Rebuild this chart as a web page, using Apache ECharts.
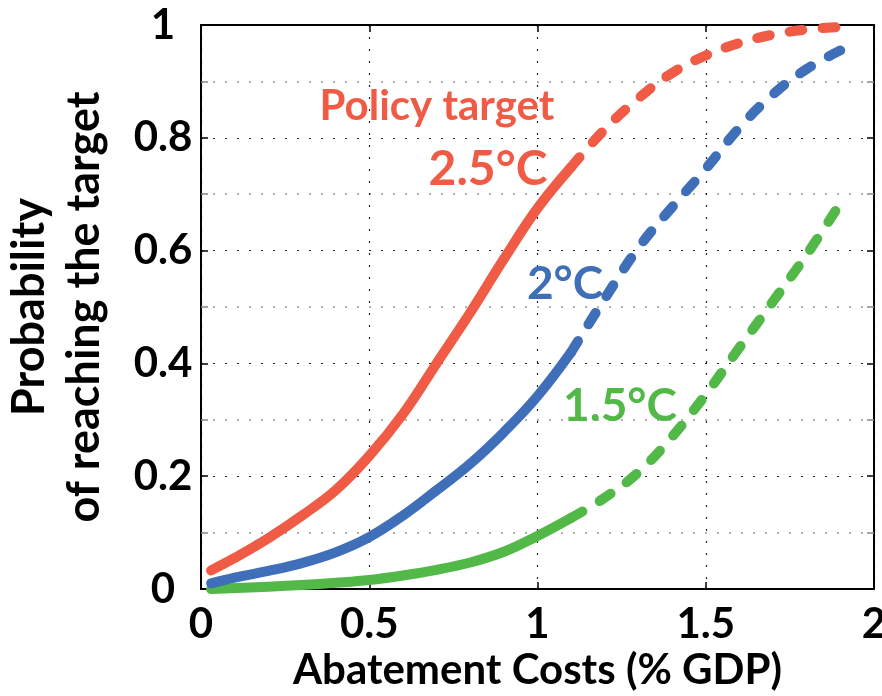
<!DOCTYPE html>
<html>
<head>
<meta charset="utf-8">
<script src="https://cdn.jsdelivr.net/npm/echarts@6/dist/echarts.min.js"></script>
<style>
html,body{margin:0;padding:0;background:#fff;}
#main{width:882px;height:696px;}
</style>
</head>
<body>
<div id="main"></div>
<script>
// ---- data ----
const redSolidX   = [0.03, 0.1, 0.2, 0.3, 0.4, 0.5, 0.6, 0.7, 0.8, 0.9, 1.0, 1.1];
const redSolidY   = [0.033, 0.055, 0.09, 0.13, 0.175, 0.236, 0.31, 0.40, 0.49, 0.585, 0.675, 0.748];
const redDashX    = [1.1, 1.2, 1.3, 1.4, 1.5, 1.6, 1.7, 1.8, 1.91];
const redDashY    = [0.748, 0.815, 0.87, 0.915, 0.946, 0.968, 0.983, 0.992, 0.997];

const blueSolidX  = [0.03, 0.1, 0.2, 0.3, 0.4, 0.5, 0.6, 0.7, 0.8, 0.9, 1.0, 1.1];
const blueSolidY  = [0.01, 0.02, 0.032, 0.046, 0.065, 0.092, 0.13, 0.175, 0.222, 0.278, 0.342, 0.42];
const blueDashX   = [1.1, 1.2, 1.3, 1.4, 1.5, 1.6, 1.7, 1.8, 1.91];
const blueDashY   = [0.42, 0.515, 0.605, 0.677, 0.745, 0.818, 0.877, 0.922, 0.958];

const greenSolidX = [0.03, 0.2, 0.3, 0.4, 0.5, 0.6, 0.7, 0.8, 0.9, 1.0, 1.1];
const greenSolidY = [0.0, 0.004, 0.007, 0.011, 0.016, 0.024, 0.034, 0.047, 0.066, 0.094, 0.126];
const greenDashX  = [1.1, 1.2, 1.3, 1.4, 1.5, 1.6, 1.7, 1.8, 1.91];
const greenDashY  = [0.126, 0.162, 0.207, 0.27, 0.345, 0.428, 0.51, 0.593, 0.693];

const xTicks = [0, 0.5, 1, 1.5, 2];
const yTicks = [0, 0.2, 0.4, 0.6, 0.8, 1];

const labels = [
  {text: 'Policy target', color: '#F05B45'},
  {text: '2.5°C', color: '#F05B45'},
  {text: '2°C', color: '#3E6FB8'},
  {text: '1.5°C', color: '#52B848'}
];

const RED = '#F05B45', BLUE = '#3E6FB8', GREEN = '#52B848';
const FONT = 'Lato';

function pairs(xs, ys) { return xs.map((x, i) => [x, ys[i]]); }
function fmt(v) { return String(+v.toFixed(2)); }

const chart = echarts.init(document.getElementById('main'), null, {renderer: 'canvas'});

function lineSeries(xs, ys, color, dashed) {
  return {
    type: 'line',
    data: pairs(xs, ys),
    showSymbol: false,
    symbol: 'none',
    smooth: 0.4,
    animation: false,
    z: 5,
    lineStyle: {
      color: color,
      width: 10,
      cap: 'round',
      join: 'round',
      type: dashed ? [13, 20] : 'solid'
    }
  };
}

const darkDot = {color: '#222', width: 1.2, type: [2, 10]};
const lightDot = {color: '#b0b0b0', width: 2, type: [2, 10]};

const option = {
  backgroundColor: '#fff',
  animation: false,
  grid: {left: 201, right: 8, top: 25, bottom: 107, containLabel: false, outerBoundsMode: 'none'},
  xAxis: [{
    type: 'value', min: 0, max: 2, interval: 0.5,
    axisLine: {show: true, onZero: false, lineStyle: {color: '#000', width: 2}},
    axisTick: {show: true, inside: true, length: 7, lineStyle: {color: '#000', width: 1.5}},
    axisLabel: {
      margin: 14, color: '#000', fontFamily: FONT, fontWeight: 'bold', fontSize: 42,
      formatter: v => xTicks.includes(+v.toFixed(2)) ? fmt(v) : ''
    },
    splitLine: {show: true, lineStyle: darkDot},
    name: 'Abatement Costs (% GDP)',
    nameLocation: 'middle',
    nameGap: 58,
    nameTextStyle: {color: '#000', fontFamily: FONT, fontWeight: 'bold', fontSize: 42}
  }, {
    type: 'value', position: 'top', min: 0, max: 2, interval: 0.5,
    axisLine: {show: true, onZero: false, lineStyle: {color: '#000', width: 2}},
    axisTick: {show: true, inside: true, length: 7, lineStyle: {color: '#000', width: 1.5}},
    axisLabel: {show: false},
    splitLine: {show: false}
  }],
  yAxis: [{
    type: 'value', min: 0, max: 1, interval: 0.2,
    axisLine: {show: true, onZero: false, lineStyle: {color: '#000', width: 2}},
    axisTick: {show: true, inside: true, length: 7, lineStyle: {color: '#000', width: 1.5}},
    minorTick: {show: true, splitNumber: 2, length: 7, lineStyle: {color: '#888', width: 1.5}},
    minorSplitLine: {show: true, lineStyle: lightDot},
    axisLabel: {
      margin: 38, align: 'center', color: '#000', fontFamily: FONT, fontWeight: 'bold', fontSize: 42,
      formatter: v => yTicks.includes(+v.toFixed(2)) ? fmt(v) : ''
    },
    splitLine: {show: true, lineStyle: darkDot},
    name: 'Probability\nof reaching the target',
    nameLocation: 'middle',
    nameGap: 89,
    nameRotate: 90,
    nameTextStyle: {color: '#000', fontFamily: FONT, fontWeight: 'bold', fontSize: 45, lineHeight: 55}
  }, {
    type: 'value', position: 'right', min: 0, max: 1, interval: 0.2,
    axisLine: {show: true, onZero: false, lineStyle: {color: '#000', width: 2}},
    axisTick: {show: true, inside: true, length: 7, lineStyle: {color: '#000', width: 1.5}},
    minorTick: {show: true, splitNumber: 2, length: 7, lineStyle: {color: '#888', width: 1.5}},
    axisLabel: {show: false},
    splitLine: {show: false}
  }],
  series: [
    lineSeries(greenSolidX, greenSolidY, GREEN, false),
    lineSeries(greenDashX, greenDashY, GREEN, true),
    lineSeries(blueSolidX, blueSolidY, BLUE, false),
    lineSeries(blueDashX, blueDashY, BLUE, true),
    lineSeries(redSolidX, redSolidY, RED, false),
    lineSeries(redDashX, redDashY, RED, true)
  ],
  graphic: [
    {type: 'text', x: 437, y: 106, z: 10, style: {text: labels[0].text, fill: labels[0].color, font: 'bold 42px Lato', align: 'center', verticalAlign: 'middle'}},
    {type: 'text', x: 488, y: 170, z: 10, style: {text: labels[1].text, fill: labels[1].color, font: 'bold 48px Lato', align: 'center', verticalAlign: 'middle'}},
    {type: 'text', x: 565, y: 284, z: 10, style: {text: labels[2].text, fill: labels[2].color, font: 'bold 46px Lato', align: 'center', verticalAlign: 'middle'}},
    {type: 'text', x: 620, y: 406, z: 10, style: {text: labels[3].text, fill: labels[3].color, font: 'bold 46px Lato', align: 'center', verticalAlign: 'middle'}}
  ]
};

chart.setOption(option);
</script>
</body>
</html>
